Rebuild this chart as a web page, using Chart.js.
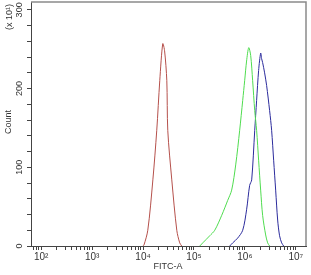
<!DOCTYPE html>
<html><head><meta charset="utf-8">
<script src="https://cdn.jsdelivr.net/npm/chart.js@4/dist/chart.umd.min.js"></script>
<style>html,body{margin:0;padding:0;background:#fff}#wrap{width:311px;height:275px;position:relative}</style>
</head><body><div id="wrap"><canvas id="c"></canvas></div>
<script>
// FITC-A values (x) and counts (x10^1) (y)
const redX = [9900, 10400, 12400, 15600, 18600, 21300, 24400, 26500, 29300, 30600, 36700, 46000, 52500, 57500];
const redY = [0, 1, 20, 84, 147, 210, 257, 248, 210, 147, 84, 20, 4, 0];
const greenX = [130000, 149000, 204000, 256000, 351000, 460000, 550000, 660000, 790000, 906000, 990000, 1080000, 1190000, 1300000, 1420000, 1560000, 1700000, 1860000, 2040000, 2230000, 2560000, 2800000, 3060000];
const greenY = [0, 4, 13, 20, 39, 58, 71, 103, 147, 185, 210, 235, 252, 242, 210, 172, 147, 109, 71, 39, 14, 4, 0];
const blueX = [504000, 577000, 720000, 906000, 1080000, 1240000, 1360000, 1560000, 1700000, 1860000, 2040000, 2130000, 2230000, 2440000, 2670000, 3060000, 3350000, 3670000, 4020000, 4400000, 4800000, 5270000, 5770000];
const blueY = [0, 4, 10, 20, 46, 77, 84, 147, 185, 223, 245, 238, 233, 220, 204, 172, 147, 109, 71, 33, 13, 4, 0];
const yTickLabels = ['0', '100', '200', '300'];
const xDecades = [2, 3, 4, 5, 6, 7];
const sup = {'1':'¹','2':'²','3':'³','4':'⁴','5':'⁵','6':'⁶','7':'⁷'};

const toPts = (xs, ys) => xs.map((x, i) => ({x, y: ys[i]}));
const FONT = 'Liberation Sans, Arial, sans-serif';

const titles = {
  id: 'titles',
  afterDraw(chart) {
    const ctx = chart.ctx, a = chart.chartArea;
    ctx.save();
    ctx.strokeStyle = '#8a8a8a';
    ctx.lineWidth = 1.5;
    ctx.beginPath();
    ctx.moveTo(a.left, a.top); ctx.lineTo(a.right, a.top); ctx.lineTo(a.right, a.bottom);
    ctx.stroke();
    ctx.fillStyle = '#333';
    ctx.font = '9px ' + FONT;
    ctx.textAlign = 'center'; ctx.textBaseline = 'middle';
    ctx.fillText('FITC-A', 168, 267);
    ctx.save(); ctx.translate(9, 122); ctx.rotate(-Math.PI/2); ctx.fillText('Count', 0, 0); ctx.restore();
    ctx.save(); ctx.translate(10, 17); ctx.rotate(-Math.PI/2); ctx.fillText('(x 10' + sup['1'] + ')', 0, 0); ctx.restore();
    ctx.restore();
  }
};

new Chart(document.getElementById('c'), {
  type: 'line',
  data: { datasets: [
    { data: toPts(redX, redY), borderColor: '#b5504b' },
    { data: toPts(greenX, greenY), borderColor: '#4fdc4f' },
    { data: toPts(blueX, blueY), borderColor: '#2b2b9c' }
  ]},
  options: {
    responsive: true, maintainAspectRatio: false, animation: false,
    layout: { padding: { top: 2, right: 5, left: 0, bottom: 0 } },
    elements: { point: { radius: 0 }, line: { borderWidth: 1, tension: 0.3, fill: false } },
    plugins: { legend: { display: false }, tooltip: { enabled: false } },
    scales: {
      x: {
        type: 'logarithmic', min: Math.pow(10, 1.8), max: Math.pow(10, 7.2),
        afterBuildTicks(s) {
          const t = [];
          for (let d = 1; d <= 7; d++) for (let k = 1; k <= 9; k++) {
            const v = k * Math.pow(10, d);
            if (v >= s.min && v <= s.max) t.push({ value: v, major: k === 1 });
          }
          s.ticks = t;
        },
        afterFit(s) { s.height = 29; s.paddingLeft = 0; s.paddingRight = 0; },
        border: { display: true, color: '#444', width: 1 },
        grid: { drawOnChartArea: false, drawTicks: true, tickLength: 4, color: '#444' },
        ticks: {
          autoSkip: false, maxRotation: 0, minRotation: 0, padding: 1, color: '#333',
          font: { size: 10, family: FONT },
          callback(v) {
            const e = Math.round(Math.log10(v));
            if (Math.abs(Math.pow(10, e) - v) < 1e-6 * v && xDecades.includes(e)) return '10' + sup[String(e)];
            return '';
          }
        }
      },
      y: {
        min: 0, max: 310,
        afterBuildTicks(s) {
          const t = [];
          for (let v = 0; v <= 300; v += 20) t.push({ value: v });
          s.ticks = t;
        },
        afterFit(s) { s.width = 31; s.paddingTop = 0; s.paddingBottom = 0; },
        border: { display: true, color: '#444', width: 1 },
        grid: { drawOnChartArea: false, drawTicks: true, tickLength: 4, color: '#444' },
        ticks: {
          autoSkip: false, minRotation: 90, maxRotation: 90, padding: 0, crossAlign: 'center', color: '#333',
          font: { size: 9, family: FONT },
          callback(v) { return yTickLabels.includes(String(v)) ? String(v) : ''; }
        }
      }
    }
  },
  plugins: [titles]
});
</script></body></html>
